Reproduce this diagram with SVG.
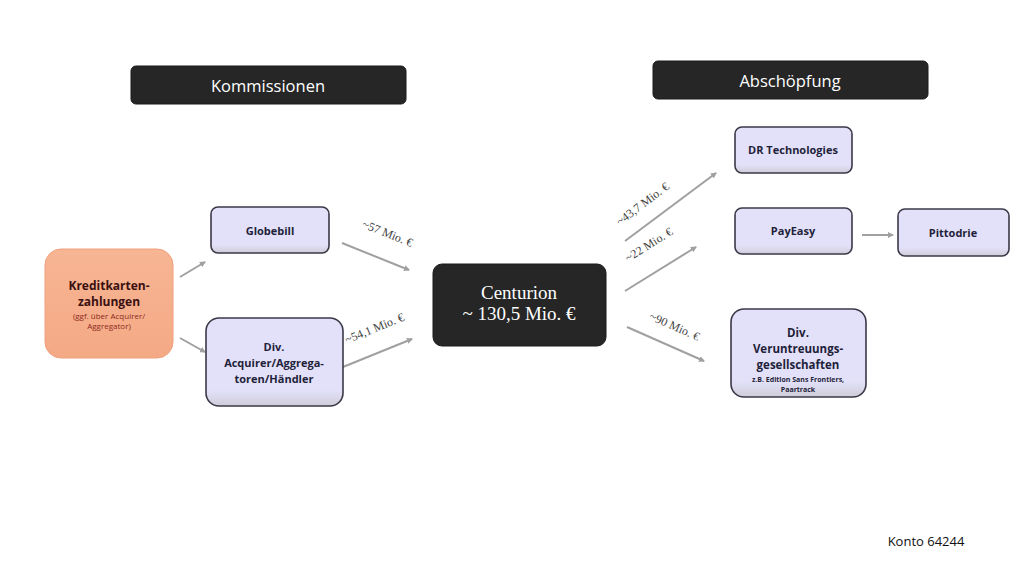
<svg xmlns="http://www.w3.org/2000/svg" width="1022" height="563" viewBox="0 0 1022 563">
<style>
.hdr{fill:#262626;stroke:#1a1a1a;stroke-width:1}
.hdrt{font-family:"Open Sans","Liberation Sans",sans-serif;font-size:16.5px;fill:#ffffff;text-anchor:middle}
.node{fill:url(#lav);stroke:#3b3848;stroke-width:1.6}
.nt{font-family:"Open Sans","Liberation Sans",sans-serif;font-size:11px;font-weight:bold;fill:#1f1f3a;text-anchor:middle}
.st{font-family:"Open Sans","Liberation Sans",sans-serif;font-size:7px;font-weight:bold;fill:#1f1f3a;text-anchor:middle}
.el{font-family:"Liberation Serif",serif;font-size:12px;fill:#444;text-anchor:middle}
.conn{stroke:#a0a0a0;stroke-width:2;fill:none;marker-end:url(#ah)}
</style>
<defs>
<linearGradient id="lav" x1="0" y1="0" x2="0" y2="1">
<stop offset="0" stop-color="#e3e1f9"/>
<stop offset="0.82" stop-color="#e3e1f9"/>
<stop offset="1" stop-color="#cfcdd8"/>
</linearGradient>
<linearGradient id="org" x1="0" y1="0" x2="0" y2="1">
<stop offset="0" stop-color="#f7b594"/>
<stop offset="1" stop-color="#f4a985"/>
</linearGradient>
<marker id="ah" markerWidth="6" markerHeight="6" refX="5" refY="3" orient="auto" markerUnits="userSpaceOnUse">
<path d="M0,0 L6,3 L0,6 z" fill="#a0a0a0"/>
</marker>
</defs>
<rect width="1022" height="563" fill="#ffffff"/>
<g id="hdr-kommissionen">
<rect class="hdr" x="131" y="66" width="275" height="38" rx="5"/>
<text class="hdrt" x="268" y="92">Kommissionen</text>
</g>
<g id="hdr-abschoepfung">
<rect class="hdr" x="653" y="61" width="275" height="38" rx="5"/>
<text class="hdrt" x="790" y="87">Abschöpfung</text>
</g>
<g id="connectors">
<line class="conn" x1="180" y1="277" x2="205" y2="262"/>
<line class="conn" x1="180" y1="338" x2="205" y2="352"/>
<line class="conn" x1="342" y1="243" x2="409" y2="270"/>
<line class="conn" x1="343" y1="367" x2="412" y2="339"/>
<line class="conn" x1="625" y1="241" x2="716" y2="173"/>
<line class="conn" x1="625" y1="291" x2="696" y2="247"/>
<line class="conn" x1="627" y1="327" x2="704" y2="361"/>
<line class="conn" x1="862" y1="235" x2="893" y2="235"/>
<text class="el" transform="translate(386,237) rotate(22)">~57 Mio. €</text>
<text class="el" transform="translate(376,332) rotate(-22)">~54,1 Mio. €</text>
<text class="el" transform="translate(645,207) rotate(-37)">~43,7 Mio. €</text>
<text class="el" transform="translate(651,248) rotate(-32)">~22 Mio. €</text>
<text class="el" transform="translate(673,330) rotate(24)">~90 Mio. €</text>
</g>
<g id="kreditkarten">
<rect x="45" y="249" width="128" height="109" rx="16" fill="url(#org)" stroke="#f0a07c" stroke-width="1"/>
<text class="nt" x="109" y="290" style="fill:#3a1010;font-size:12px">Kreditkarten-</text>
<text class="nt" x="109" y="306" style="fill:#3a1010;font-size:12px">zahlungen</text>
<text class="st" x="109" y="319" style="fill:#8b2a20;font-weight:normal;font-size:8px">(ggf. über Acquirer/</text>
<text class="st" x="109" y="329" style="fill:#8b2a20;font-weight:normal;font-size:8px">Aggregator)</text>
</g>
<g id="globebill">
<rect class="node" x="211" y="207" width="118" height="46" rx="7"/>
<text class="nt" x="270" y="235">Globebill</text>
</g>
<g id="div-acquirer">
<rect class="node" x="206" y="318" width="137" height="88" rx="13"/>
<text class="nt" x="274" y="351">Div.</text>
<text class="nt" x="274" y="367">Acquirer/Aggrega-</text>
<text class="nt" x="274" y="383">toren/Händler</text>
</g>
<g id="centurion">
<rect x="433" y="264" width="173" height="82" rx="9" fill="#262626" stroke="#1a1a1a"/>
<text x="519" y="299" font-family="Liberation Serif,serif" font-size="19" fill="#fff" text-anchor="middle">Centurion</text>
<text x="519" y="320" font-family="Liberation Serif,serif" font-size="19" fill="#fff" text-anchor="middle">~ 130,5 Mio. €</text>
</g>
<g id="dr-technologies">
<rect class="node" x="735" y="127" width="117" height="46" rx="7"/>
<text class="nt" x="793" y="154">DR Technologies</text>
</g>
<g id="payeasy">
<rect class="node" x="735" y="208" width="117" height="46" rx="7"/>
<text class="nt" x="793" y="235">PayEasy</text>
</g>
<g id="pittodrie">
<rect class="node" x="898" y="209" width="111" height="47" rx="7"/>
<text class="nt" x="953" y="237">Pittodrie</text>
</g>
<g id="div-veruntreuung">
<rect class="node" x="731" y="309" width="135" height="88" rx="13"/>
<text class="nt" x="798" y="337" style="font-size:11.5px">Div.</text>
<text class="nt" x="798" y="353" style="font-size:11.5px">Veruntreuungs-</text>
<text class="nt" x="798" y="369" style="font-size:11.5px">gesellschaften</text>
<text class="st" x="798" y="382">z.B. Edition Sans Frontiers,</text>
<text class="st" x="798" y="392">Paartrack</text>
</g>
<text x="926" y="546" font-family="Open Sans,Liberation Sans,sans-serif" font-size="13" fill="#111" text-anchor="middle">Konto 64244</text>
</svg>
